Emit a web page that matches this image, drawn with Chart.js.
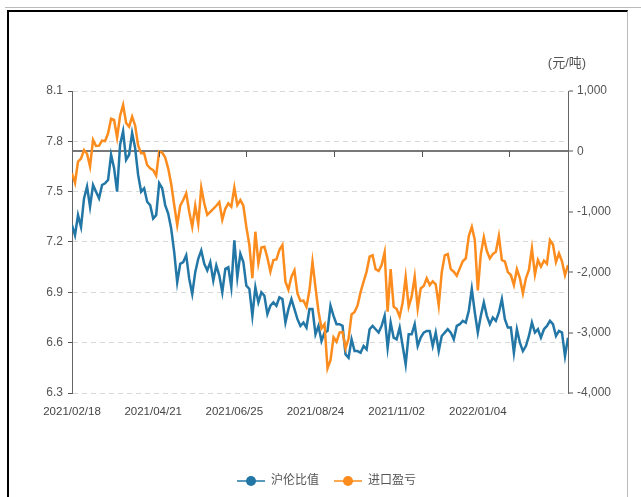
<!DOCTYPE html>
<html>
<head>
<meta charset="utf-8">
<script src="https://cdn.jsdelivr.net/npm/chart.js@4"></script>
<style>
  html, body { margin: 0; padding: 0; background: #fff; }
  #wrap { position: relative; width: 641px; height: 497px; overflow: hidden; }
  #shade { position: absolute; left: 5px; top: 7px; width: 636px; height: 1px; background: #bbb; }
  #frame { position: absolute; left: 7px; top: 10px; width: 618px; height: 500px;
           border-left: 2px solid #000; border-top: 2px solid #000; border-right: 1px solid #bbb; }
  canvas { position: absolute; left: 0; top: 0; }
</style>
</head>
<body>
<div id="wrap">
  <div id="shade"></div>
  <div id="frame"></div>
  <canvas id="myChart" width="641" height="497"></canvas>
</div>
<script>
// 沪伦比值 (left axis)
const ratio = [
  7.30, 7.24, 7.36, 7.29, 7.46, 7.53, 7.41, 7.54, 7.50, 7.46,
  7.54, 7.55, 7.57, 7.72, 7.64, 7.50, 7.78, 7.86, 7.69, 7.72,
  7.85, 7.76, 7.60, 7.50, 7.52, 7.44, 7.42, 7.34, 7.36, 7.55,
  7.52, 7.42, 7.37, 7.28, 7.14, 6.96, 7.07, 7.08, 7.12, 6.98,
  6.89, 7.02, 7.10, 7.15, 7.07, 7.03, 7.08, 6.97, 7.06, 7.00,
  6.90, 7.04, 7.05, 6.93, 7.21, 6.99, 7.13, 7.08, 6.94, 6.92,
  6.76, 6.93, 6.84, 6.90, 6.88, 6.77, 6.82, 6.84, 6.82, 6.87,
  6.86, 6.72, 6.80, 6.86, 6.80, 6.74, 6.70, 6.72, 6.69, 6.80,
  6.80, 6.65, 6.70, 6.61, 6.66, 6.67, 6.82, 6.76, 6.71, 6.71,
  6.70, 6.53, 6.51, 6.62, 6.55, 6.55, 6.54, 6.58, 6.56, 6.68,
  6.70, 6.68, 6.66, 6.70, 6.76, 6.57, 6.72, 6.63, 6.62, 6.69,
  6.58, 6.47, 6.65, 6.65, 6.71, 6.58, 6.63, 6.66, 6.67, 6.67,
  6.58, 6.66, 6.55, 6.64, 6.66, 6.68, 6.66, 6.62, 6.70, 6.71,
  6.73, 6.72, 6.79, 6.92, 6.78, 6.66, 6.76, 6.84, 6.76, 6.71,
  6.75, 6.73, 6.78, 6.86, 6.74, 6.69, 6.69, 6.54, 6.68, 6.60,
  6.55, 6.58, 6.64, 6.72, 6.66, 6.68, 6.63, 6.68, 6.70, 6.73,
  6.71, 6.64, 6.67, 6.66, 6.52, 6.63
];

// 进口盈亏, 元/吨 (right axis)
const profit = [
  -363, -520, -170, -120, 23, -40, -250, 190, 90, 95,
  180, 170, 300, 540, 520, 230, 590, 768, 470, 410,
  575, 430, 100, -32, -32, -225, -280, -310, -400, 0,
  -20, -100, -280, -540, -888, -1219, -900, -805, -695, -1000,
  -1250, -900, -1200, -600, -860, -1050, -1000, -950, -900, -840,
  -1130, -950, -860, -915, -600, -888, -805, -900, -1250, -1550,
  -2100, -1330, -1850, -1590, -1578, -1760, -1990, -1799, -1790, -1630,
  -1550, -2157, -2290, -2075, -1970, -2350, -2475, -2470, -2571, -2300,
  -1826, -2250, -2650, -2930, -2860, -3590, -3455, -3080, -3150, -3000,
  -2990, -3261, -3100, -2700, -2660, -2550, -2330, -2157, -1990, -1743,
  -1720, -1950, -1980, -1880, -1670, -2654, -1950, -2571, -2610, -2737,
  -2500, -2080, -2571, -2400, -2075, -2600, -2268, -2230, -2100, -2213,
  -2150, -2200, -2550, -2000, -1720, -1700, -1950, -1992, -2060, -1937,
  -1820, -1771, -1400, -1250, -1467, -2300, -1700, -1420, -1650, -1771,
  -1700, -1661, -1400, -1799, -1820, -2000, -2047, -2213, -1950, -2100,
  -2351, -2100, -1964, -1605, -2040, -1799, -1909, -1810, -1860, -1470,
  -1540, -1830, -1688, -1820, -2050, -1881
];

const xLabels = ['2021/02/18', '2021/04/21', '2021/06/25', '2021/08/24', '2021/11/02', '2022/01/04'];
const xLabelIdx = [0, 27, 54, 81, 108, 135];
const zeroTickIdx = [29, 58, 87, 116.5, 145.5];
const leftTicks = [6.3, 6.6, 6.9, 7.2, 7.5, 7.8, 8.1];
const rightTicks = [-4000, -3000, -2000, -1000, 0, 1000];

const BLUE = '#2277a6';
const ORANGE = '#fb8c1d';
const FONT = '"Liberation Sans", "Noto Sans CJK SC", sans-serif';

function legendIcon(color) {
  let c = document.createElement('canvas');
  c.width = 28; c.height = 12;
  let g = c.getContext('2d');
  g.globalAlpha = 0.75;
  g.strokeStyle = color;
  g.lineWidth = 2;
  g.beginPath(); g.moveTo(0, 6); g.lineTo(28, 6); g.stroke();
  g.globalAlpha = 1;
  g.fillStyle = color;
  g.beginPath(); g.arc(14, 6, 5, 0, Math.PI * 2); g.fill();
  return c;
}

const extras = {
  id: 'extras',
  afterDraw(chart) {
    let ctx = chart.ctx;
    let x = chart.scales.x, y2 = chart.scales.y2;
    let y0 = Math.round(y2.getPixelForValue(0));
    ctx.save();
    ctx.strokeStyle = '#555';
    ctx.lineWidth = 1;
    zeroTickIdx.forEach(v => {
      let px = Math.round(x.getPixelForValue(v)) + 0.5;
      ctx.beginPath(); ctx.moveTo(px, y0); ctx.lineTo(px, y0 + 6); ctx.stroke();
    });
    ctx.fillStyle = '#555';
    ctx.font = '13px ' + FONT;
    ctx.textAlign = 'center';
    ctx.textBaseline = 'middle';
    ctx.fillText('(元/吨)', 567, 63);
    ctx.restore();
  }
};

const config = {
  type: 'line',
  data: {
    datasets: [
      {
        label: '沪伦比值',
        data: ratio.map((v, i) => ({ x: i, y: v })),
        yAxisID: 'y',
        borderColor: BLUE,
        backgroundColor: BLUE,
        borderWidth: 2.5,
        pointRadius: 0,
        pointStyle: legendIcon(BLUE),
        tension: 0
      },
      {
        label: '进口盈亏',
        data: profit.map((v, i) => ({ x: i, y: v })),
        yAxisID: 'y2',
        borderColor: ORANGE,
        backgroundColor: ORANGE,
        borderWidth: 2.5,
        pointRadius: 0,
        pointStyle: legendIcon(ORANGE),
        tension: 0,
        order: -1
      }
    ]
  },
  options: {
    responsive: false,
    animation: false,
    layout: { padding: { top: 91, bottom: 0, left: 12, right: 0 } },
    plugins: {
      tooltip: { enabled: false },
      legend: {
        position: 'bottom',
        labels: {
          usePointStyle: true,
          pointStyleWidth: 28,
          padding: 15,
          color: '#555',
          font: { size: 12, family: FONT },
          sort: (a, b) => a.datasetIndex - b.datasetIndex
        }
      }
    },
    scales: {
      x: {
        type: 'linear',
        min: 0,
        max: ratio.length - 1,
        grid: { display: false, drawTicks: false },
        border: { display: false },
        afterBuildTicks: s => { s.ticks = xLabelIdx.map(v => ({ value: v })); },
        afterFit: s => { s.height = 67; },
        ticks: {
          autoSkip: false,
          maxRotation: 0,
          padding: 12,
          color: '#444',
          font: { size: 11.5, family: FONT },
          callback: v => xLabels[xLabelIdx.indexOf(v)]
        }
      },
      y: {
        position: 'left',
        min: 6.3,
        max: 8.1,
        afterBuildTicks: s => { s.ticks = leftTicks.map(v => ({ value: v })); },
        afterFit: s => { s.width = 60; },
        grid: {
          color: '#d8d8d8',
          tickLength: 4,
          tickColor: '#555',
          tickBorderDash: []
        },
        border: { display: true, color: '#666', width: 1, dash: [5, 4] },
        ticks: {
          padding: 5,
          color: '#555',
          font: { size: 12, family: FONT },
          callback: v => v.toFixed(1)
        }
      },
      y2: {
        position: 'right',
        min: -4000,
        max: 1000,
        afterBuildTicks: s => { s.ticks = rightTicks.map(v => ({ value: v })); },
        afterFit: s => { s.width = 73; },
        grid: {
          color: c => (c.tick && c.tick.value === 0) ? '#777' : 'rgba(0,0,0,0)',
          lineWidth: 2,
          tickLength: 5,
          tickColor: '#555',
          tickWidth: 1
        },
        border: { display: true, color: '#666', width: 1 },
        ticks: {
          padding: 4,
          color: '#555',
          font: { size: 12, family: FONT },
          callback: v => v.toLocaleString('en-US')
        }
      }
    }
  },
  plugins: [extras]
};

const myChart = new Chart(document.getElementById('myChart'), config);
</script>
</body>
</html>
